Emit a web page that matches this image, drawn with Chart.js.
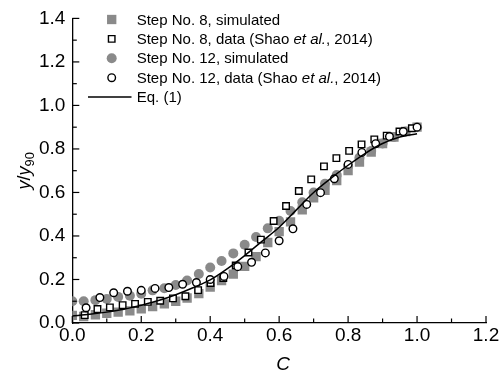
<!DOCTYPE html>
<html><head><meta charset="utf-8">
<script src="https://cdn.jsdelivr.net/npm/chart.js@4/dist/chart.umd.min.js"></script>
<style>html,body{margin:0;padding:0;background:#fff;}#wrap{width:501px;height:373px;}</style>
</head><body><div id="wrap"><canvas id="c" width="501" height="373"></canvas></div>
<script>
// ---- data ----
const simX = [0,0.033,0.067,0.1,0.133,0.167,0.2,0.233,0.267,0.3,0.333,0.367,0.4,0.433,0.467,0.5,0.533,0.567,0.6,0.633,0.667,0.7,0.733,0.767,0.8,0.833,0.867,0.9,0.933,0.967,1.0];
const step8SimY = [0.035,0.03,0.038,0.045,0.05,0.056,0.065,0.075,0.088,0.10,0.115,0.135,0.165,0.195,0.225,0.26,0.305,0.37,0.42,0.465,0.52,0.575,0.61,0.655,0.70,0.74,0.785,0.825,0.855,0.88,0.90];
const step12SimY = [0.10,0.10,0.105,0.11,0.12,0.125,0.135,0.15,0.16,0.175,0.195,0.225,0.255,0.285,0.32,0.36,0.395,0.435,0.47,0.515,0.555,0.60,0.64,0.68,0.72,0.76,0.79,0.825,0.855,0.88,0.90];
const step8DataX = [0.036,0.073,0.109,0.146,0.182,0.219,0.255,0.292,0.328,0.365,0.401,0.438,0.474,0.511,0.547,0.584,0.620,0.657,0.693,0.730,0.766,0.803,0.839,0.876,0.912,0.949,0.985];
const step8DataY = [0.036,0.064,0.072,0.082,0.088,0.097,0.102,0.113,0.123,0.151,0.184,0.207,0.264,0.324,0.383,0.469,0.538,0.607,0.660,0.720,0.758,0.791,0.821,0.844,0.861,0.880,0.895];
const step12DataX = [0.04,0.08,0.12,0.16,0.20,0.24,0.28,0.32,0.36,0.40,0.44,0.48,0.52,0.56,0.60,0.64,0.68,0.72,0.76,0.80,0.84,0.88,0.92,0.96,1.00];
const step12DataY = [0.070,0.117,0.139,0.146,0.150,0.159,0.163,0.178,0.186,0.200,0.214,0.259,0.279,0.322,0.378,0.433,0.545,0.599,0.663,0.729,0.784,0.824,0.857,0.880,0.900];
const eqX = [0,0.05,0.1,0.15,0.2,0.25,0.3,0.35,0.4,0.45,0.5,0.55,0.6,0.65,0.7,0.75,0.8,0.85,0.9,0.95,1.0];
const eqY = [0.032,0.04,0.05,0.063,0.082,0.103,0.13,0.162,0.198,0.25,0.31,0.375,0.44,0.52,0.60,0.665,0.725,0.78,0.825,0.855,0.87];
const xTicks = [0,0.2,0.4,0.6,0.8,1.0,1.2];
const yTicks = [0,0.2,0.4,0.6,0.8,1.0,1.2,1.4];
const legendLabels = [
  [["Step No. 8, simulated",false]],
  [["Step No. 8, data (Shao ",false],["et al.",true],[", 2014)",false]],
  [["Step No. 12, simulated",false]],
  [["Step No. 12, data (Shao ",false],["et al.",true],[", 2014)",false]],
  [["Eq. (1)",false]]
];

const FONT = 'Arial, "Liberation Sans", sans-serif';
const GREY = '#8a8a8a';
const pts = (xs, ys) => xs.map((x, i) => ({x: x, y: ys[i]}));

const markers = [
  {style:'rect', r:6.6, fill:GREY, bw:0},
  {style:'rect', r:4.6, fill:'#fff', bw:1.4},
  {style:'circle', r:5, fill:GREY, bw:0},
  {style:'circle', r:3.8, fill:'#fff', bw:1.4},
  {style:'line'}
];

const extras = {
  id: 'extras',
  afterDraw(chart) {
    const ctx = chart.ctx;
    const xs = chart.scales.x, ys = chart.scales.y;
    const x0 = xs.getPixelForValue(0), y0 = ys.getPixelForValue(0);
    ctx.save();
    ctx.strokeStyle = '#000';
    ctx.lineWidth = 1.2;
    for (let i = 0; i < xTicks.length; i++) {
      const px = xs.getPixelForValue(xTicks[i]);
      ctx.beginPath(); ctx.moveTo(px, y0); ctx.lineTo(px, y0 - 7); ctx.stroke();
      if (i < xTicks.length - 1) {
        const pm = xs.getPixelForValue((xTicks[i] + xTicks[i+1]) / 2);
        ctx.beginPath(); ctx.moveTo(pm, y0); ctx.lineTo(pm, y0 - 4.5); ctx.stroke();
      }
    }
    for (let i = 0; i < yTicks.length; i++) {
      const py = ys.getPixelForValue(yTicks[i]);
      ctx.beginPath(); ctx.moveTo(x0, py); ctx.lineTo(x0 + 7, py); ctx.stroke();
      if (i < yTicks.length - 1) {
        const pm = ys.getPixelForValue((yTicks[i] + yTicks[i+1]) / 2);
        ctx.beginPath(); ctx.moveTo(x0, pm); ctx.lineTo(x0 + 4.5, pm); ctx.stroke();
      }
    }
    ctx.fillStyle = '#000';
    ctx.font = 'italic 19px ' + FONT;
    ctx.textAlign = 'center';
    ctx.textBaseline = 'alphabetic';
    ctx.fillText('C', (xs.left + xs.right) / 2 + 4, 370);
    ctx.save();
    ctx.translate(30, (chart.chartArea.top + chart.chartArea.bottom) / 2);
    ctx.rotate(-Math.PI / 2);
    const segs = [['y','italic 18px ',0],['/','18px ',0],['y','italic 18px ',0],['90','13px ',4]];
    let tw = 0;
    segs.forEach(s => { ctx.font = s[1] + FONT; tw += ctx.measureText(s[0]).width; });
    let cx = -tw / 2;
    ctx.textAlign = 'left';
    segs.forEach(s => { ctx.font = s[1] + FONT; ctx.fillText(s[0], cx, s[2]); cx += ctx.measureText(s[0]).width; });
    ctx.restore();
    const mx = 111.7, tx = 136.7, top = 19.5, step = 19.4;
    ctx.textBaseline = 'middle';
    ctx.textAlign = 'left';
    legendLabels.forEach((parts, i) => {
      const y = top + i * step;
      const m = markers[i];
      if (m.style === 'line') {
        ctx.strokeStyle = '#000'; ctx.lineWidth = 1.5;
        ctx.beginPath(); ctx.moveTo(88, y); ctx.lineTo(131.5, y); ctx.stroke();
      } else {
        ctx.fillStyle = m.fill; ctx.strokeStyle = '#000'; ctx.lineWidth = m.bw;
        Chart.helpers.drawPoint(ctx, {pointStyle: m.style, radius: m.r, rotation: 0, borderWidth: m.bw}, mx, y);
      }
      ctx.fillStyle = '#000';
      let x = tx;
      parts.forEach(p => {
        ctx.font = (p[1] ? 'italic ' : '') + '15px ' + FONT;
        ctx.fillText(p[0], x, y + 1);
        x += ctx.measureText(p[0]).width;
      });
    });
    ctx.restore();
  }
};

new Chart(document.getElementById('c'), {
  type: 'scatter',
  data: {
    datasets: [
      {label: 'Eq. (1)', type: 'line', data: pts(eqX, eqY), borderColor: '#000', borderWidth: 1.5, pointRadius: 0, fill: false, cubicInterpolationMode: 'monotone'},
      {label: 'Step No. 12, data', data: pts(step12DataX, step12DataY), pointStyle: 'circle', pointRadius: 3.8, backgroundColor: '#fff', borderColor: '#000', borderWidth: 1.4},
      {label: 'Step No. 8, data', data: pts(step8DataX, step8DataY), pointStyle: 'rect', pointRadius: 4.6, backgroundColor: '#fff', borderColor: '#000', borderWidth: 1.4},
      {label: 'Step No. 12, simulated', data: pts(simX, step12SimY), pointStyle: 'circle', pointRadius: 5, backgroundColor: GREY, borderWidth: 0},
      {label: 'Step No. 8, simulated', data: pts(simX, step8SimY), pointStyle: 'rect', pointRadius: 6.6, backgroundColor: GREY, borderWidth: 0}
    ]
  },
  options: {
    responsive: false,
    animation: false,
    events: [],
    layout: {padding: {left: 0, top: 18, right: 15, bottom: 0}},
    plugins: {legend: {display: false}, tooltip: {enabled: false}, title: {display: false}},
    scales: {
      x: {
        type: 'linear', min: 0, max: 1.2,
        afterBuildTicks: s => { s.ticks = xTicks.map(v => ({value: v})); },
        afterFit: s => { s.height = 50; },
        ticks: {callback: v => v.toFixed(1), font: {size: 19, family: FONT}, color: '#000', padding: 1, maxRotation: 0, autoSkip: false},
        grid: {display: false, drawTicks: false},
        border: {display: true, color: '#000', width: 1.3}
      },
      y: {
        type: 'linear', min: 0, max: 1.4,
        afterBuildTicks: s => { s.ticks = yTicks.map(v => ({value: v})); },
        afterFit: s => { s.width = 72.3; },
        ticks: {callback: v => v.toFixed(1), font: {size: 19, family: FONT}, color: '#000', padding: 7, autoSkip: false},
        grid: {display: false, drawTicks: false},
        border: {display: true, color: '#000', width: 1.3}
      }
    }
  },
  plugins: [extras]
});
</script></body></html>
